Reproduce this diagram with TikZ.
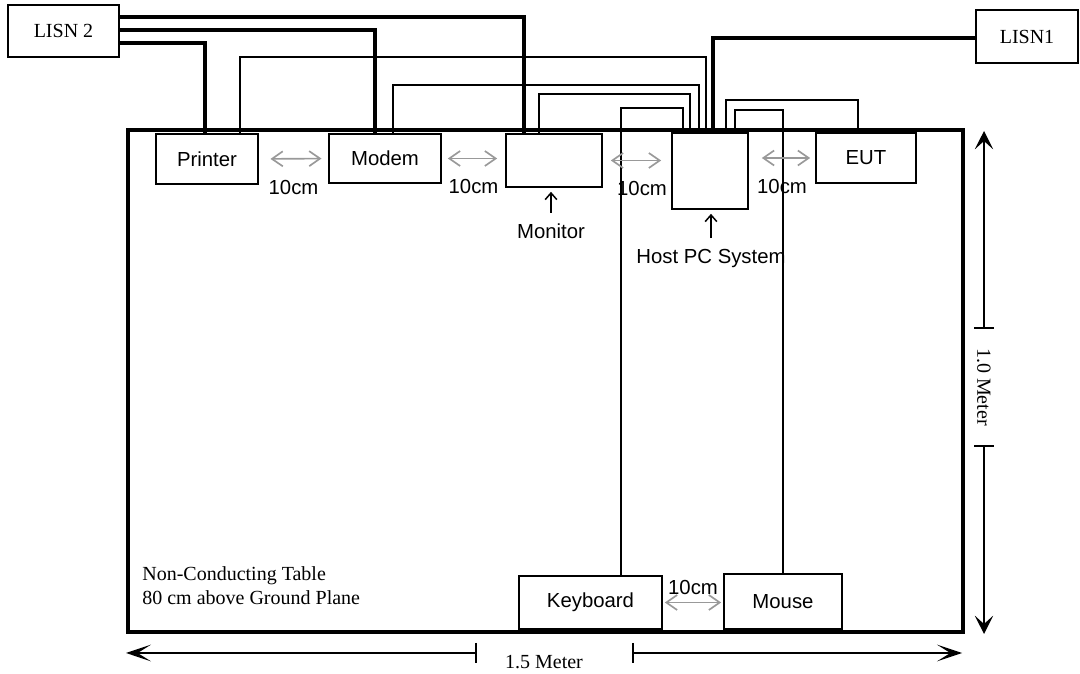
\documentclass[tikz,border=0pt]{standalone}
\usepackage{fontspec}
\setmainfont{Liberation Serif}
\setsansfont{Liberation Sans}
\usepackage{tikz}
\usetikzlibrary{arrows.meta,positioning,fit}
\definecolor{gapgrey}{HTML}{999999}
\tikzset{
  unit/.style={draw,line width=1pt,inner sep=0pt},
  unittext/.style={inner sep=0pt,font=\sffamily\fontsize{12.2}{14}\selectfont},
  lisntext/.style={inner sep=0pt,font=\fontsize{12}{14.4}\selectfont},
  lbl/.style={inner sep=0pt,text=black,font=\sffamily\fontsize{12.2}{14}\selectfont},
  note/.style={inner sep=0pt,font=\fontsize{12}{14.4}\selectfont},
  mains/.style={line width=2pt},
  cable/.style={line width=0.9pt},
  gap/.style={gapgrey,line width=1pt,{Straight Barb[length=6.5pt,width=9pt]}-{Straight Barb[length=6.5pt,width=9pt]}},
  pointer/.style={line width=0.9pt,-{Straight Barb[length=4pt,width=7pt]}},
  hdim/.style={line width=0.9pt,-{Stealth[length=15pt,width=10pt,inset=8pt]}},
  vdim/.style={line width=0.9pt,-{Stealth[length=11pt,width=11pt,inset=5pt]}},
  tick/.style={line width=0.9pt}
}
\newcommand{\unitbox}[4]{
  \node[unit,fit={#2 #3},label={[unittext]center:#4}] (#1) {};
}

\begin{document}
\begin{tikzpicture}[x=0.6pt,y=-0.6pt]
  \useasboundingbox (0,0) rectangle (1080,674);
  \node[draw,line width=2pt,inner sep=0pt,fit={(128,130) (963,632)}] (table) {};
  \unitbox{printer}{(156,134)}{(258,184)}{Printer}
  \unitbox{modem}{(329,134)}{(441,183)}{Modem}
  \unitbox{monitor}{(506,134)}{(602,187)}{}
  \unitbox{host}{(672,133)}{(748,209)}{}
  \unitbox{eut}{(816,133)}{(916,183)}{EUT}
  \unitbox{keyboard}{(519,576)}{(662,629)}{Keyboard}
  \unitbox{mouse}{(724,574)}{(842,629)}{Mouse}
  \node[unit,fit={(8,5) (119,57)},label={[lisntext]center:LISN 2}] (lisn2) {};
  \node[unit,fit={(976,10) (1078,63)},label={[lisntext]center:LISN1}] (lisn1) {};
  \node[lbl,anchor=base] (monlbl) at (551,239) {Monitor};
  \node[lbl,anchor=base] (hostlbl) at (711,264) {Host PC System};
  \node[note,anchor=west,align=left] (tablelbl) at (142,586) {Non-Conducting Table\\80 cm above Ground Plane};
  \draw[mains] (lisn2.east |- 0,17) -| (monitor.north -| 524,0);
  \draw[mains] (lisn2.east |- 0,30) -| (modem.north -| 375,0);
  \draw[mains] (lisn2.east |- 0,43) -| (printer.north -| 205,0);
  \draw[mains] (lisn1.west |- 0,38) -| (host.north -| 713,0);
  \draw[cable] (printer.north -| 240,0) |- (706,57) -- (host.north -| 706,0);
  \draw[cable] (modem.north -| 393,0) |- (699,85) -- (host.north -| 699,0);
  \draw[cable] (monitor.north -| 539,0) |- (690,94) -- (host.north -| 690,0);
  \draw[cable] (keyboard.north -| 621,0) |- (683,108) -- (host.north -| 683,0);
  \draw[cable] (host.north -| 726,0) |- (858,100) -- (eut.north -| 858,0);
  \draw[cable] (host.north -| 735,0) |- (783,110) -- (mouse.north -| 783,0);
  \draw[gap,shorten <=7pt,shorten >=4pt] (printer.east) -- node[lbl,yshift=-17pt] {10cm} (modem.west);
  \draw[gap,shorten <=3.6pt,shorten >=4.8pt] (modem.east) -- node[lbl,yshift=-17pt] {10cm} (modem.east -| monitor.west);
  \draw[gap,shorten <=4.8pt,shorten >=6pt] (monitor.east) -- node[lbl,yshift=-17pt,xshift=3pt] {10cm} (monitor.east -| host.west);
  \draw[gap,shorten <=7.8pt,shorten >=3pt] (eut.west -| host.east) -- node[lbl,yshift=-17pt] {10cm} (eut.west);
  \draw[gap,shorten <=1.2pt,shorten >=1.2pt] (keyboard.east) -- node[lbl,yshift=9pt] {10cm} (keyboard.east -| mouse.west);
  \draw[pointer,shorten <=6.8pt,shorten >=2.4pt] (monlbl.north) -- (monlbl.north |- monitor.south);
  \draw[pointer,shorten <=6.8pt,shorten >=2.4pt] (hostlbl.north) -- (hostlbl.north |- host.south);
  \coordinate (hL) at (126,653);
  \coordinate (hA) at (476,653);
  \coordinate (hB) at (633,653);
  \coordinate (hR) at (962,653);
  \node[note] (hlbl) at (544,662) {1.5 Meter};
  \draw[hdim] (hA) -- (hL);
  \draw[hdim] (hB) -- (hR);
  \draw[tick] (hA) ++(0,-10) -- ++(0,20);
  \draw[tick] (hB) ++(0,-10) -- ++(0,20);
  \coordinate (vT) at (984,131);
  \coordinate (vA) at (984,328);
  \coordinate (vC) at (984,446);
  \coordinate (vB) at (984,634);
  \node[note,rotate=-90] (vlbl) at (984,387) {1.0 Meter};
  \draw[vdim] (vA) -- (vT);
  \draw[vdim] (vC) -- (vB);
  \draw[tick] (vA) ++(-10,0) -- ++(20,0);
  \draw[tick] (vC) ++(-10,0) -- ++(20,0);
\end{tikzpicture}
\end{document}
